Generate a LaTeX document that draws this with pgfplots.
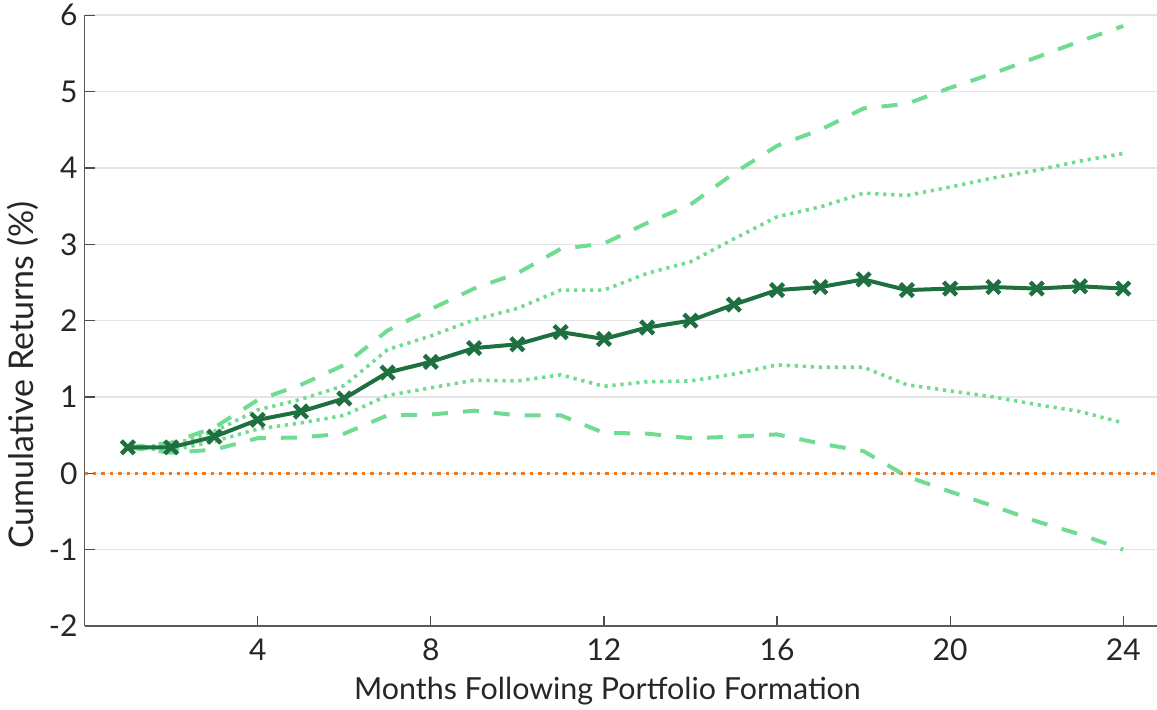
\documentclass[border=0pt]{standalone}
\usepackage{fontspec}
\setmainfont{Lato}
\usepackage{pgfplots}
\usepackage{pgfplotstable}
\pgfplotsset{compat=1.18}
\definecolor{dkgreen}{RGB}{31,112,64}
\definecolor{ltgreen}{RGB}{112,220,145}
\definecolor{orng}{RGB}{237,120,30}
\pgfplotstableread{
m main updash updot lodot lodash
1 0.34 0.34 0.34 0.34 0.34
2 0.34 0.40 0.37 0.30 0.27
3 0.48 0.60 0.55 0.42 0.31
4 0.70 0.96 0.83 0.58 0.46
5 0.81 1.16 0.97 0.66 0.47
6 0.98 1.42 1.15 0.76 0.52
7 1.32 1.87 1.62 1.02 0.76
8 1.46 2.15 1.80 1.12 0.77
9 1.64 2.42 2.01 1.22 0.82
10 1.69 2.62 2.16 1.21 0.76
11 1.85 2.94 2.40 1.29 0.76
12 1.76 3.01 2.40 1.14 0.53
13 1.91 3.28 2.62 1.20 0.52
14 2.00 3.52 2.77 1.21 0.46
15 2.21 3.93 3.07 1.30 0.48
16 2.40 4.29 3.36 1.42 0.51
17 2.44 4.50 3.49 1.39 0.39
18 2.54 4.78 3.67 1.39 0.29
19 2.40 4.84 3.64 1.16 -0.04
20 2.42 5.05 3.75 1.08 -0.24
21 2.44 5.24 3.87 1.00 -0.43
22 2.42 5.45 3.97 0.90 -0.63
23 2.45 5.66 4.09 0.81 -0.80
24 2.42 5.86 4.19 0.66 -1.00
}\datatable
\begin{document}
\begin{tikzpicture}
\begin{axis}[name=ax,
  width=536.2pt, height=305.35pt, scale only axis,
  xmin=0, xmax=24.78, ymin=-2, ymax=6,
  axis x line*=bottom, axis y line*=left,
  axis line style={draw=black!65, line width=0.8pt},
  xtick={4,8,12,16,20,24}, xticklabels={4,8,12,16,20,24},
  ytick={-2,-1,0,1,2,3,4,5,6}, yticklabels={-2,-1,0,1,2,3,4,5,6},
  tick align=inside, major tick length=5pt,
  tick style={draw=black!70, line width=0.6pt},
  ymajorgrids, grid style={draw=black!10, line width=0.8pt},
  tick label style={font=\fontsize{15}{15}\selectfont, text=black!85},
  xticklabel style={yshift=-3pt},
  label style={text=black!85},
  xlabel={Months Following Portfolio Formation},
  ylabel={Cumulative Returns (\%)},
  xlabel style={font=\fontsize{15.2}{15.2}\selectfont, at={([yshift=-37pt]rel axis cs:0.4876,0)}, anchor=base},
  ylabel style={font=\fontsize{17}{17}\selectfont, at={([xshift=-30.8pt]rel axis cs:0,0.411)}, anchor=center},
]
\addplot[orng, line width=1.8pt, dash pattern=on 1.7pt off 2.5pt] coordinates {(0,0) (24.78,0)};
\addplot[ltgreen, line width=2pt, dash pattern=on 8pt off 7.5pt] table[x=m, y=updash] {\datatable};
\addplot[ltgreen, line width=2pt, dash pattern=on 8pt off 7.5pt] table[x=m, y=lodash] {\datatable};
\addplot[ltgreen, line width=1.8pt, dash pattern=on 1.65pt off 2.35pt] table[x=m, y=updot] {\datatable};
\addplot[ltgreen, line width=1.8pt, dash pattern=on 1.65pt off 2.35pt] table[x=m, y=lodot] {\datatable};
\addplot[dkgreen, line width=2pt, mark=x, mark size=4.6pt, mark options={solid, line width=2.2pt}] table[x=m, y=main] {\datatable};
\end{axis}
\pgfresetboundingbox
\path[use as bounding box] ([xshift=-42.3pt,yshift=-42pt]ax.south west) rectangle ([yshift=7.65pt]ax.north east);
\end{tikzpicture}
\end{document}
